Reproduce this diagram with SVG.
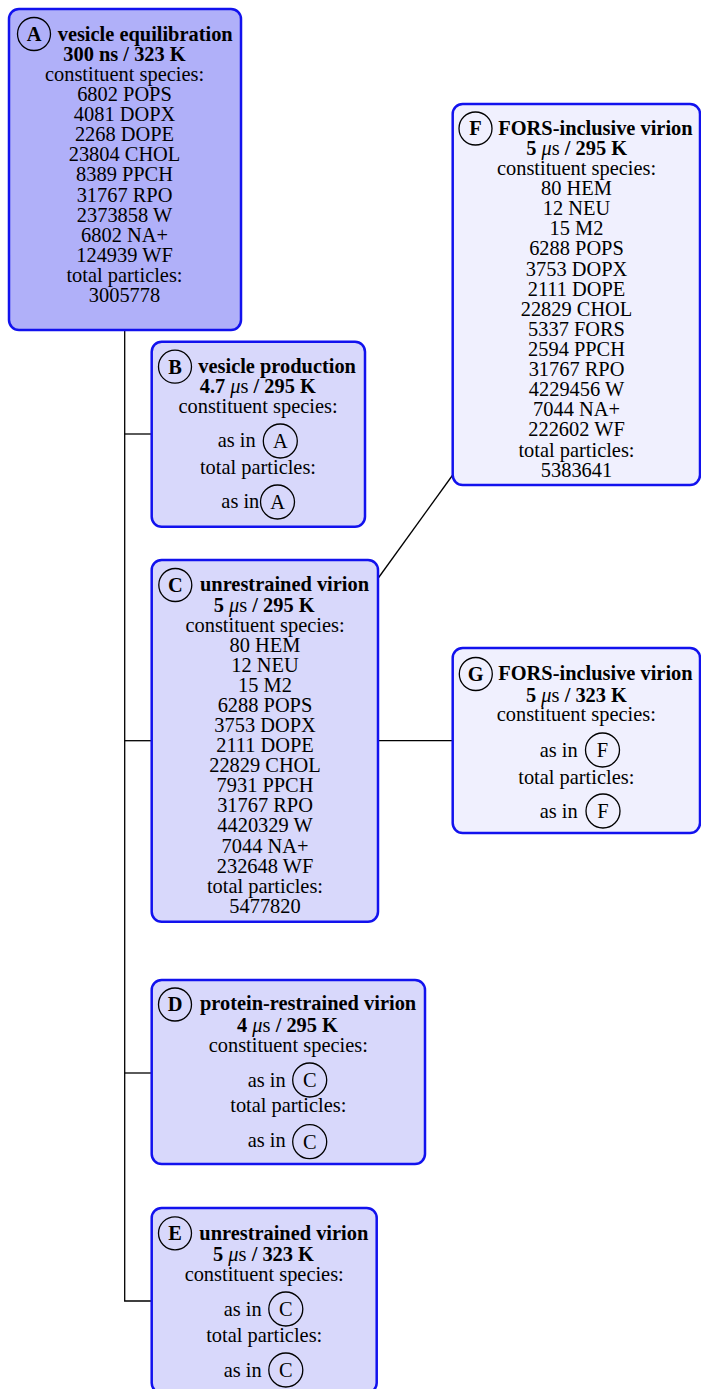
<svg xmlns="http://www.w3.org/2000/svg" width="701" height="1389" viewBox="0 0 701 1389">
<style>
text{font-family:"Liberation Serif","Times New Roman",serif;font-size:20.4px;fill:#000}
.c{text-anchor:middle}
.e{text-anchor:end}
.b{font-weight:bold}
.mu{font-style:italic;font-weight:normal}
.sn{font-weight:normal}
.n1{fill:#b0b0f9;stroke:#1212ee;stroke-width:2.5}
.n2{fill:#d8d8fb;stroke:#1212ee;stroke-width:2.5}
.n3{fill:#f0f0fe;stroke:#1212ee;stroke-width:2.5}
.lab{fill:none;stroke:#000;stroke-width:1.3}
.conn{fill:none;stroke:#000;stroke-width:1.3}
</style>
<rect width="701" height="1389" fill="#fff"/>
<g id="connectors">
<path class="conn" d="M124.7,330 V1301 H151.7"/>
<path class="conn" d="M124.7,434 H151.7"/>
<path class="conn" d="M124.7,740.7 H151.7"/>
<path class="conn" d="M124.7,1073 H151.7"/>
<path class="conn" d="M378,740.7 H452.7"/>
<path class="conn" d="M378.3,578 L452.7,475"/>
</g>
<g id="nodeA">
<rect class="n1" x="9" y="9" width="232" height="321" rx="10"/>
<circle class="lab" cx="34" cy="34" r="16.5"/>
<text class="c b" x="34" y="41">A</text>
<text class="b" x="57.7" y="40.5">vesicle equilibration</text>
<text class="c b" x="124.5" y="61">300 ns / 323 K</text>
<text class="c" x="124.5" y="81">constituent species:</text>
<text class="c" x="124.5" y="101">6802 POPS</text>
<text class="c" x="124.5" y="121.1">4081 DOPX</text>
<text class="c" x="124.5" y="141.2">2268 DOPE</text>
<text class="c" x="124.5" y="161.3">23804 CHOL</text>
<text class="c" x="124.5" y="181.4">8389 PPCH</text>
<text class="c" x="124.5" y="201.5">31767 RPO</text>
<text class="c" x="124.5" y="221.6">2373858 W</text>
<text class="c" x="124.5" y="241.7">6802 NA+</text>
<text class="c" x="124.5" y="261.8">124939 WF</text>
<text class="c" x="124.5" y="281.9">total particles:</text>
<text class="c" x="124.5" y="302">3005778</text>
</g>
<g id="nodeB">
<rect class="n2" x="151.7" y="341.7" width="213.3" height="185" rx="10"/>
<circle class="lab" cx="175" cy="366.7" r="16.5"/>
<text class="c b" x="175" y="373.5">B</text>
<text class="b" x="198.3" y="373.3">vesicle production</text>
<text class="c b" x="257.8" y="392.7">4.7 <tspan class="mu">μ</tspan><tspan class="sn">s</tspan> / 295 K</text>
<text class="c" x="258" y="413.3">constituent species:</text>
<text class="e" x="255.7" y="447.3">as in</text>
<circle class="lab" cx="280.3" cy="441" r="17"/>
<text class="c" x="280.3" y="448">A</text>
<text class="c" x="258" y="474">total particles:</text>
<text class="e" x="259.3" y="508.3">as in</text>
<circle class="lab" cx="277.5" cy="502" r="17"/>
<text class="c" x="277.5" y="509">A</text>
</g>
<g id="nodeC">
<rect class="n2" x="151.7" y="560" width="226.3" height="361.7" rx="10"/>
<circle class="lab" cx="175.3" cy="585" r="16.5"/>
<text class="c b" x="175.3" y="591.5">C</text>
<text class="b" x="200" y="590.7">unrestrained virion</text>
<text class="c b" x="264.2" y="611.7">5 <tspan class="mu">μ</tspan><tspan class="sn">s</tspan> / 295 K</text>
<text class="c" x="265" y="631.7">constituent species:</text>
<text class="c" x="265" y="651.7">80 HEM</text>
<text class="c" x="265" y="671.8">12 NEU</text>
<text class="c" x="265" y="691.9">15 M2</text>
<text class="c" x="265" y="711.9">6288 POPS</text>
<text class="c" x="265" y="732">3753 DOPX</text>
<text class="c" x="265" y="752.1">2111 DOPE</text>
<text class="c" x="265" y="772.2">22829 CHOL</text>
<text class="c" x="265" y="792.3">7931 PPCH</text>
<text class="c" x="265" y="812.3">31767 RPO</text>
<text class="c" x="265" y="832.4">4420329 W</text>
<text class="c" x="265" y="852.5">7044 NA+</text>
<text class="c" x="265" y="872.6">232648 WF</text>
<text class="c" x="265" y="892.6">total particles:</text>
<text class="c" x="265" y="912.7">5477820</text>
</g>
<g id="nodeD">
<rect class="n2" x="151.7" y="980" width="273.3" height="184" rx="10"/>
<circle class="lab" cx="175" cy="1004.5" r="16.5"/>
<text class="c b" x="175" y="1011">D</text>
<text class="b" x="200" y="1010">protein-restrained virion</text>
<text class="c b" x="287.5" y="1031.7">4 <tspan class="mu">μ</tspan><tspan class="sn">s</tspan> / 295 K</text>
<text class="c" x="288.3" y="1051.7">constituent species:</text>
<text class="e" x="285.7" y="1086.7">as in</text>
<circle class="lab" cx="309.7" cy="1080" r="17"/>
<text class="c" x="309.7" y="1087">C</text>
<text class="c" x="288.3" y="1111.7">total particles:</text>
<text class="e" x="285.7" y="1146.7">as in</text>
<circle class="lab" cx="309.7" cy="1141.7" r="17"/>
<text class="c" x="309.7" y="1148.7">C</text>
</g>
<g id="nodeE">
<rect class="n2" x="151.7" y="1208" width="225" height="185" rx="10"/>
<circle class="lab" cx="175" cy="1233.3" r="16.5"/>
<text class="c b" x="175" y="1240">E</text>
<text class="b" x="199.3" y="1240">unrestrained virion</text>
<text class="c b" x="263.5" y="1261">5 <tspan class="mu">μ</tspan><tspan class="sn">s</tspan> / 323 K</text>
<text class="c" x="264.2" y="1280.7">constituent species:</text>
<text class="e" x="261.7" y="1316">as in</text>
<circle class="lab" cx="285.8" cy="1309" r="17"/>
<text class="c" x="285.8" y="1316">C</text>
<text class="c" x="264.2" y="1341.7">total particles:</text>
<text class="e" x="261.7" y="1376.7">as in</text>
<circle class="lab" cx="285.8" cy="1370" r="17"/>
<text class="c" x="285.8" y="1377">C</text>
</g>
<g id="nodeF">
<rect class="n3" x="452.7" y="104" width="247.3" height="381" rx="10"/>
<circle class="lab" cx="475.5" cy="128.5" r="16.5"/>
<text class="c b" x="475.5" y="135">F</text>
<text class="b" x="498.3" y="135">FORS-inclusive virion</text>
<text class="c b" x="576.7" y="155">5 <tspan class="mu">μ</tspan><tspan class="sn">s</tspan> / 295 K</text>
<text class="c" x="576.5" y="175">constituent species:</text>
<text class="c" x="576.5" y="195">80 HEM</text>
<text class="c" x="576.5" y="215.1">12 NEU</text>
<text class="c" x="576.5" y="235.2">15 M2</text>
<text class="c" x="576.5" y="255.4">6288 POPS</text>
<text class="c" x="576.5" y="275.5">3753 DOPX</text>
<text class="c" x="576.5" y="295.6">2111 DOPE</text>
<text class="c" x="576.5" y="315.7">22829 CHOL</text>
<text class="c" x="576.5" y="335.8">5337 FORS</text>
<text class="c" x="576.5" y="356">2594 PPCH</text>
<text class="c" x="576.5" y="376.1">31767 RPO</text>
<text class="c" x="576.5" y="396.2">4229456 W</text>
<text class="c" x="576.5" y="416.3">7044 NA+</text>
<text class="c" x="576.5" y="436.4">222602 WF</text>
<text class="c" x="576.5" y="456.6">total particles:</text>
<text class="c" x="576.5" y="476.7">5383641</text>
</g>
<g id="nodeG">
<rect class="n3" x="452.7" y="648" width="247.3" height="185" rx="10"/>
<circle class="lab" cx="475.8" cy="674" r="16.5"/>
<text class="c b" x="475.8" y="680.5">G</text>
<text class="b" x="498.3" y="680">FORS-inclusive virion</text>
<text class="c b" x="576.5" y="701.7">5 <tspan class="mu">μ</tspan><tspan class="sn">s</tspan> / 323 K</text>
<text class="c" x="576.3" y="721">constituent species:</text>
<text class="e" x="577.7" y="756.7">as in</text>
<circle class="lab" cx="602.5" cy="750" r="17"/>
<text class="c" x="602.5" y="757">F</text>
<text class="c" x="576.3" y="784">total particles:</text>
<text class="e" x="577.7" y="818.3">as in</text>
<circle class="lab" cx="603" cy="811" r="17"/>
<text class="c" x="603" y="818">F</text>
</g>
</svg>
